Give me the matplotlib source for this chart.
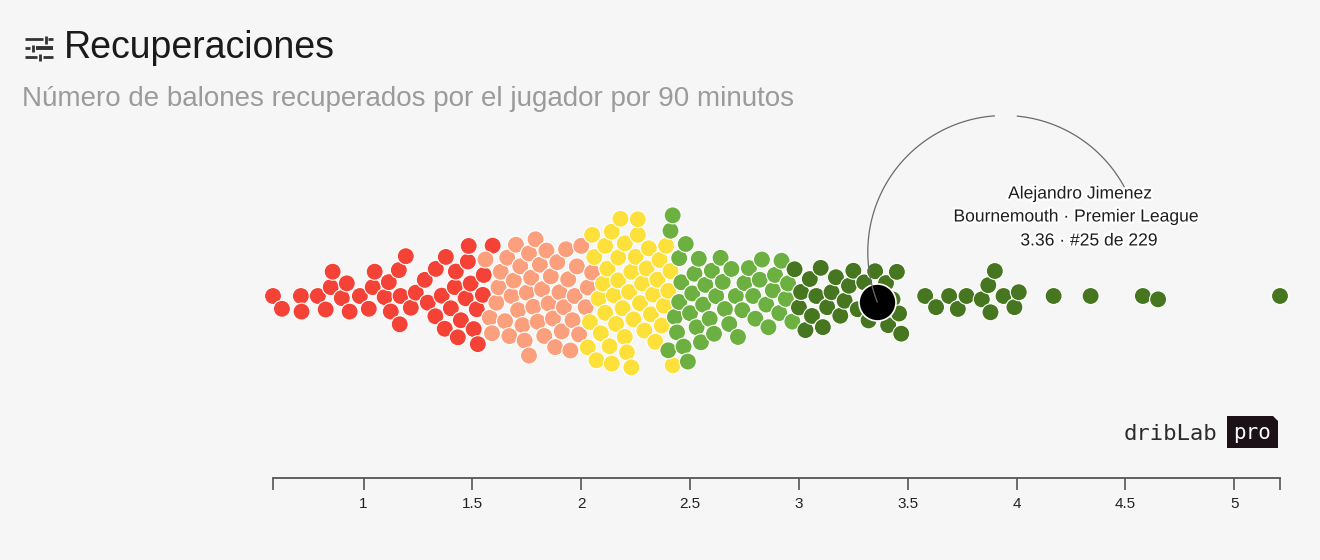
import numpy as np
import matplotlib
matplotlib.use("Agg")
import matplotlib.pyplot as plt
from matplotlib.patches import Polygon
import matplotlib.patheffects as pe

plt.rcParams["font.family"] = ["Liberation Sans", "DejaVu Sans"]

# ---------- data (recoveries per 90 min) ----------
red_vals = [0.584, 0.625, 0.712, 0.715, 0.790, 0.826, 0.849, 0.858, 0.900, 0.923,
            0.936, 0.983, 1.024, 1.042, 1.051, 1.097, 1.116, 1.125, 1.162, 1.166,
            1.170, 1.194, 1.217, 1.240, 1.281, 1.295, 1.332, 1.330, 1.359, 1.373,
            1.378, 1.401, 1.419, 1.424, 1.433, 1.447, 1.469, 1.479, 1.483, 1.492,
            1.506, 1.525, 1.520, 1.548, 1.552, 1.593]
salmon_vals = [1.56, 1.58, 1.59, 1.61, 1.62, 1.63, 1.65, 1.66, 1.67, 1.68,
               1.69, 1.70, 1.71, 1.72, 1.73, 1.74, 1.75, 1.76, 1.76, 1.77,
               1.78, 1.79, 1.80, 1.81, 1.82, 1.83, 1.84, 1.85, 1.86, 1.87,
               1.88, 1.89, 1.90, 1.91, 1.92, 1.93, 1.94, 1.95, 1.96, 1.97,
               1.98, 1.99, 2.00, 2.02, 2.03, 2.05]
yellow_vals = [2.03, 2.04, 2.05, 2.06, 2.07, 2.08, 2.09, 2.10, 2.11, 2.11,
               2.12, 2.13, 2.14, 2.14, 2.15, 2.16, 2.17, 2.17, 2.18, 2.19,
               2.20, 2.20, 2.21, 2.22, 2.23, 2.23, 2.24, 2.25, 2.26, 2.26,
               2.27, 2.28, 2.29, 2.30, 2.31, 2.32, 2.33, 2.34, 2.35, 2.36,
               2.37, 2.38, 2.39, 2.40, 2.41, 2.42]
green_vals = [2.40, 2.41, 2.42, 2.43, 2.44, 2.45, 2.45, 2.46, 2.47, 2.48,
              2.49, 2.50, 2.51, 2.52, 2.53, 2.54, 2.55, 2.56, 2.57, 2.59,
              2.60, 2.61, 2.62, 2.64, 2.65, 2.66, 2.68, 2.69, 2.71, 2.72,
              2.74, 2.75, 2.77, 2.79, 2.80, 2.82, 2.83, 2.85, 2.86, 2.88,
              2.89, 2.91, 2.92, 2.94, 2.95, 2.97]
dark_vals = [2.98, 3.00, 3.01, 3.03, 3.05, 3.06, 3.08, 3.10, 3.11, 3.13,
             3.15, 3.17, 3.19, 3.21, 3.23, 3.25, 3.27, 3.30, 3.32, 3.35,
             3.36,
             3.38, 3.40, 3.41, 3.43, 3.45, 3.46, 3.47, 3.58, 3.63, 3.69,
             3.73, 3.77, 3.84, 3.87, 3.88, 3.90, 3.94, 3.99, 4.01, 4.17,
             4.34, 4.58, 4.65, 5.21]

group_colors = ["#f44336", "#fb9f7d", "#fde13a", "#6bb040", "#46761f"]
groups = [red_vals, salmon_vals, yellow_vals, green_vals, dark_vals]

player_name = "Alejandro Jimenez"
player_team = "Bournemouth · Premier League"
player_value = 3.36
player_rank = "#25 de 229"

tick_vals = [1, 1.5, 2, 2.5, 3, 3.5, 4, 4.5, 5]
tick_labels = ["1", "1.5", "2", "2.5", "3", "3.5", "4", "4.5", "5"]

# ---------- layout helpers ----------
W, H = 1320, 560
X0, X1 = 273, 1280       # pixel span of the axis line
Y_AXIS, Y_MID, Y_TOP = 478, 296, 130
DIAM = 15.6              # collision distance in px


def swarm(xs_px, diam, first=None):
    """Greedy beeswarm: place each dot as close to the centre line as possible."""
    order = list(np.argsort(xs_px, kind="stable"))
    if first is not None:
        order.remove(first)
        order.insert(0, first)
    ys = np.zeros(len(xs_px))
    placed = []
    for i in order:
        x = xs_px[i]
        near = [(px, py) for px, py in placed if abs(px - x) < diam]
        cands = [0.0]
        for px, py in near:
            dy = np.sqrt(diam ** 2 - (px - x) ** 2)
            cands += [py + dy, py - dy]
        cands.sort(key=lambda c: (abs(c), c))
        for c in cands:
            if all((px - x) ** 2 + (py - c) ** 2 >= diam ** 2 - 1e-6 for px, py in near):
                ys[i] = c
                break
        placed.append((x, ys[i]))
    return ys


all_vals = np.concatenate([np.array(g, float) for g in groups])
all_cols = np.concatenate([[c] * len(g) for c, g in zip(group_colors, groups)])
lo, hi = all_vals.min(), all_vals.max()
sx = (X1 - X0) / (hi - lo)
ip = int(np.argmin(np.abs(all_vals - player_value)))
ys = swarm((all_vals - lo) * sx, DIAM, first=ip)

# ---------- figure ----------
fig = plt.figure(figsize=(W / 100, H / 100), dpi=100, facecolor="#f6f6f6")

ov = fig.add_axes([0, 0, 1, 1])
ov.set_xlim(0, W)
ov.set_ylim(H, 0)
ov.axis("off")

ax = fig.add_axes([X0 / W, (H - Y_AXIS) / H, (X1 - X0) / W, (Y_AXIS - Y_TOP) / H])
ax.set_facecolor("none")
ax.set_xlim(lo, hi)
ax.set_ylim(-(Y_AXIS - Y_MID), Y_MID - Y_TOP)

ax.scatter(all_vals, ys, s=(17.0 * 0.72) ** 2, c=list(all_cols),
           edgecolors="white", linewidths=0.8, clip_on=False, zorder=3)

# highlighted player
bx, by = all_vals[ip], ys[ip] - 6
ax.scatter([bx], [by], s=(37 * 0.72) ** 2, c="black", edgecolors="white",
           linewidths=1.2, clip_on=False, zorder=5)

# annotation arc: centre fixed relative to the swarm line, passes through the dot
bpx = X0 + (bx - lo) * sx
cx, cy = bpx + 127, 44.0
r = np.hypot(cx - bpx, cy - by)
a_start = np.degrees(np.arctan2(by - cy, bpx - cx)) % 360
for a0, a1 in [(a_start, 94.2), (84.5, 28.6)]:
    th = np.radians(np.linspace(a0, a1, 120))
    px = cx + r * np.cos(th)
    py = cy + r * np.sin(th)
    ax.plot(lo + (px - X0) / sx, py, color="#6a6a6a", lw=0.9,
            clip_on=False, zorder=6)

halo = [pe.withStroke(linewidth=3, foreground="white")]
for txt, x, y in [(player_name, 1080, 194), (player_team, 1076, 217),
                  (f"{player_value:.2f} · {player_rank}", 1089, 241)]:
    ov.text(x, y, txt, ha="center", va="center", fontsize=12.6, color="#1e1e1e",
            path_effects=halo, zorder=7)

# x axis
for s in ["left", "right", "top"]:
    ax.spines[s].set_visible(False)
ax.spines["bottom"].set_color("#555555")
ax.spines["bottom"].set_linewidth(1.3)
ax.set_yticks([])
ax.set_xticks(tick_vals)
ax.set_xticklabels(tick_labels, family=["Liberation Sans Narrow", "Liberation Sans"])
ax.set_xticks([lo, hi], minor=True)
ax.tick_params(axis="x", which="both", direction="out", length=8.6, width=1.2,
               color="#555555", labelsize=11, labelcolor="#222222", pad=5)

# title block
ov.text(64, 58, "Recuperaciones", fontsize=27, color="#1a1a1a", va="baseline")
ov.text(22, 106, "Número de balones recuperados por el jugador por 90 minutos",
        fontsize=20, color="#9b9b9b", va="baseline")

# sliders icon
ic = "#333333"
for (xa, xb), y, w in [((25, 43), 39, 2.0), ((48, 53), 39, 2.0), ((25, 30), 48, 2.0),
                       ((36, 53), 48, 2.8), ((25, 37), 57, 2.0), ((43, 53), 57, 2.0)]:
    ov.plot([xa, xb], [y, y], color=ic, lw=w, solid_capstyle="butt")
for x, (ya, yb) in [(45.7, (35.5, 43.5)), (33, (44.5, 51.5)), (40, (53.5, 60.5))]:
    ov.plot([x, x], [ya, yb], color=ic, lw=2.0, solid_capstyle="butt")

# watermark
ov.text(1170, 434, "dribLab", fontsize=16, family="DejaVu Sans Mono",
        color="#2b2b2b", ha="center", va="center")
ov.add_patch(Polygon([(1227, 416), (1273, 416), (1278, 421), (1278, 448), (1227, 448)],
                     closed=True, facecolor="#1c1116", edgecolor="none"))
ov.text(1252, 433, "pro", fontsize=15, family="DejaVu Sans Mono",
        color="white", ha="center", va="center")

fig.savefig("out.png", dpi=100, facecolor=fig.get_facecolor())
